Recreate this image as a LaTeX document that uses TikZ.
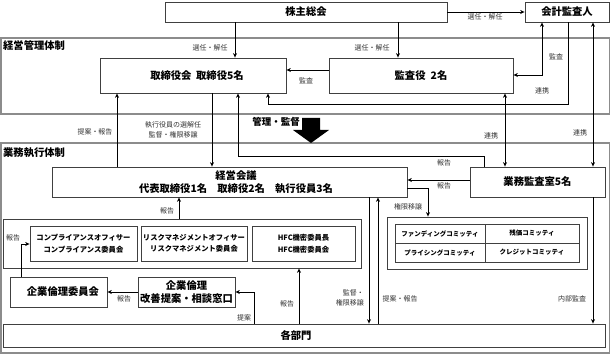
\documentclass[tikz,border=0pt]{standalone}
\usepackage{fontspec}
\setmainfont{Noto Sans CJK JP}
\usetikzlibrary{arrows.meta}
\begin{document}
\begin{tikzpicture}[x=1pt,y=-1pt,
 box/.style={draw=black!75, line width=0.8pt, fill=white, inner sep=0pt, font=\bfseries\fontsize{10.3}{12.5}\selectfont, align=center},
 cbox/.style={box, font=\bfseries\fontsize{7.3}{11.5}\selectfont},
 tbox/.style={box, font=\bfseries\fontsize{6.5}{8}\selectfont},
 frame/.style={draw=black!45, line width=1.3pt, inner sep=0pt},
 lab/.style={font=\fontsize{7}{9.5}\selectfont, inner sep=0pt, align=center, text=black!80},
 ttl/.style={font=\bfseries\fontsize{10.3}{12}\selectfont, inner sep=0pt, anchor=north west},
 arr/.style={line width=0.9pt, -{Stealth[length=4.5pt,width=4pt]}},
 darr/.style={line width=0.9pt, {Stealth[length=4.5pt,width=4pt]}-{Stealth[length=4.5pt,width=4pt]}},
]
\useasboundingbox (0,0) rectangle (611,355);

% outer frames
\node[frame, minimum width=608.5pt, minimum height=76pt] (mgmt) at (305.25,76) {};
\node[frame, minimum width=608.5pt, minimum height=210pt] (exec) at (305.25,248) {};
\node[ttl] (t1) at (3,40) {経営管理体制};
\node[ttl] (t2) at (3,147) {業務執行体制};

% top boxes
\node[box, minimum width=282pt, minimum height=20pt] (kabu) at (306,12) {株主総会};
\node[box, minimum width=84pt, minimum height=20pt] (kaikei) at (567,12) {会計監査人};
\node[box, minimum width=186pt, minimum height=35pt] (tori) at (193,75.5) {\hspace*{8pt}取締役会\hspace{0.45em}取締役5名};
\node[box, minimum width=184pt, minimum height=35pt] (kansa) at (421,75.5) {監査役\hspace{0.5em}2名};

% execution boxes
\node[box, minimum width=355pt, minimum height=30pt] (keiei) at (229.5,182) {\hspace*{13pt}経営会議\\\hspace*{13pt}代表取締役1名　取締役2名　執行役員3名};
\node[box, minimum width=135pt, minimum height=30pt] (gyomu) at (537.5,182) {業務監査室5名};

\node[box, minimum width=358pt, minimum height=49pt] (grp) at (182,243.5) {};
\node[cbox, minimum width=107pt, minimum height=35pt] (comp) at (83.5,243.5) {コンプライアンスオフィサー\\コンプライアンス委員会};
\node[cbox, minimum width=106pt, minimum height=35pt] (risk) at (194,243.5) {リスクマネジメントオフィサー\\リスクマネジメント委員会};
\node[cbox, minimum width=103pt, minimum height=35pt] (hfc) at (303.5,243.5) {HFC機密委員長\\HFC機密委員会};

\node[box, minimum width=97pt, minimum height=30pt] (rinri) at (58.5,292) {\hspace*{9pt}企業倫理委員会};
\node[box, minimum width=97pt, minimum height=30pt] (mado) at (186.5,292) {企業倫理\\改善提案・相談窓口};
\node[box, minimum width=602pt, minimum height=23pt] (kakubu) at (304,335.5) {各部門\hspace*{16pt}};

\node[box, minimum width=200pt, minimum height=52pt] (cgrp) at (487,243) {};
\node[tbox, minimum width=90pt, minimum height=19pt] (fund) at (440,233.5) {ファンディングコミッティ};
\node[tbox, minimum width=94pt, minimum height=19pt] (zan) at (532,233.5) {残価コミッティ};
\node[tbox, minimum width=90pt, minimum height=19pt] (pric) at (440,252.5) {プライシングコミッティ};
\node[tbox, minimum width=94pt, minimum height=19pt] (cred) at (532,252.5) {クレジットコミッティ};

% big arrow
\fill (302,118) -- (320,118) -- (320,130) -- (329,130) -- (311,143) -- (293,130) -- (302,130) -- cycle;
\node[font=\bfseries\fontsize{9.5}{11}\selectfont, inner sep=0pt, anchor=east] (kanri) at (300,122) {管理・監督};

% connectors
\coordinate (c1) at (235,0);
\coordinate (c2) at (398,0);
\coordinate (c3) at (0,70);
\coordinate (c4) at (542,75);
\coordinate (c5) at (568,104);
\coordinate (c5b) at (268,104);
\coordinate (c6) at (505,0);
\coordinate (c7) at (593,0);
\coordinate (c8) at (117,0);
\coordinate (c9) at (212,0);
\coordinate (c10) at (484,156);
\coordinate (c10b) at (238,156);
\coordinate (c11) at (0,180);
\coordinate (c12) at (428,188);
\coordinate (c13) at (369,0);
\coordinate (c14) at (378,0);
\coordinate (c15) at (179,0);
\coordinate (c16) at (21,244);
\coordinate (c17) at (0,292);
\coordinate (c18) at (254,292);
\coordinate (c19) at (299,0);

\draw[arr] (kabu.south -| c1) -- (tori.north -| c1);
\draw[arr] (kabu.south -| c2) -- (kansa.north -| c2);
\draw[arr] (kabu.east) -- (kaikei.west);
\draw[arr] (kansa.west |- c3) -- (tori.east |- c3);
\draw[darr] (kaikei.south -| c4) |- (kansa.east |- c4);
\draw[arr] (kaikei.south -| c5) -- (c5) -- (c5b) -- (tori.south -| c5b);
\draw[darr] (gyomu.north -| c6) -- (kansa.south -| c6);
\draw[darr] (gyomu.north -| c7) -- (kaikei.south -| c7);
\draw[arr] (keiei.north -| c8) -- (tori.south -| c8);
\draw[arr] (tori.south -| c9) -- (keiei.north -| c9);
\draw[arr] (gyomu.north -| c10) -- (c10) -- (c10b) -- (tori.south -| c10b);
\draw[arr] (gyomu.west |- c11) -- (keiei.east |- c11);
\draw[arr] (keiei.east |- c12) -| (cgrp.north -| c12);
\draw[arr] (keiei.south -| c13) -- (kakubu.north -| c13);
\draw[arr] (kakubu.north -| c14) -- (keiei.south -| c14);
\draw[arr] (grp.north -| c15) -- (keiei.south -| c15);
\draw[arr] (rinri.north -| c16) |- (comp.west |- c16);
\draw[arr] (mado.west |- c17) -- (rinri.east |- c17);
\draw[arr] (kakubu.north -| c18) |- (mado.east |- c18);
\draw[arr] (kakubu.north -| c19) -- (grp.south -| c19);
\draw[arr] (gyomu.south -| c7) -- (kakubu.north -| c7);

% labels
\node[lab] (l1) at (485,17) {選任・解任};
\node[lab] (l2) at (210,48) {選任・解任};
\node[lab] (l3) at (372,48) {選任・解任};
\node[lab] (l4) at (306,81) {監査};
\node[lab] (l5) at (556,57) {監査};
\node[lab] (l6) at (542,91) {連携};
\node[lab] (l7) at (95,132) {提案・報告};
\node[lab] (l8) at (173,130) {執行役員の選解任\\監督・権限移譲};
\node[lab] (l9) at (491,136) {連携};
\node[lab] (l10) at (580,133) {連携};
\node[lab] (l11) at (444,163) {報告};
\node[lab] (l12) at (444,186) {報告};
\node[lab] (l13) at (408,207) {権限移譲};
\node[lab] (l14) at (167,211) {報告};
\node[lab] (l15) at (13,238) {報告};
\node[lab] (l16) at (124,299) {報告};
\node[lab] (l17) at (244,318) {提案};
\node[lab] (l18) at (287,304) {報告};
\node[lab, align=right, anchor=east] (l19) at (364,298) {監督・\\権限移譲};
\node[lab] (l20) at (400,299) {提案・報告};
\node[lab] (l21) at (572,299) {内部監査};
\end{tikzpicture}
\end{document}
